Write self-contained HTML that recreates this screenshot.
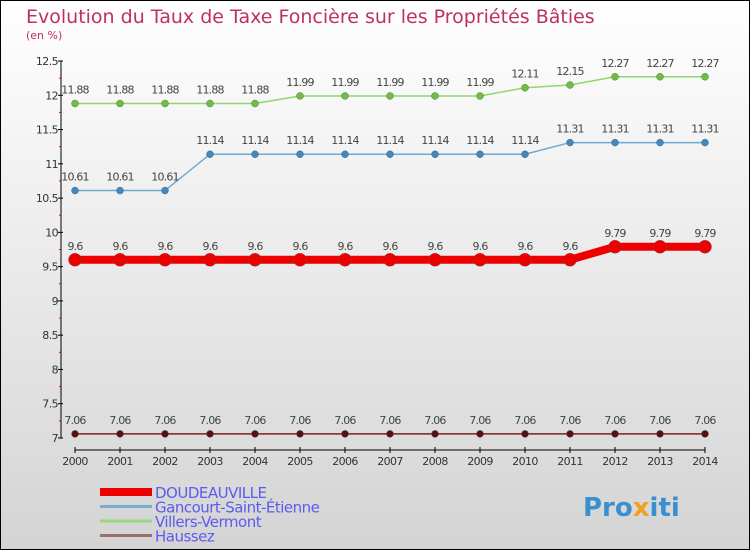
<!DOCTYPE html>
<html><head><meta charset="utf-8"><style>
body{margin:0;}
svg{display:block;font-family:"DejaVu Sans","Liberation Sans",sans-serif;}
</style></head><body>
<svg id="c" width="750" height="550" viewBox="0 0 750 550" xmlns="http://www.w3.org/2000/svg">
<defs><linearGradient id="bg" x1="0" y1="0" x2="0" y2="1"><stop offset="0" stop-color="#ffffff"/><stop offset="1" stop-color="#d4d4d4"/></linearGradient></defs>
<rect x="0.5" y="0.5" width="749" height="549" fill="url(#bg)" stroke="#000"/>
<text x="26" y="23" font-size="19" fill="#c0305e">Evolution du Taux de Taxe Foncière sur les Propriétés Bâties</text>
<text x="26" y="39" font-size="11" fill="#c0305e">(en %)</text>
<g id="axes"></g><g id="series"></g><g id="legend"></g>
<g><text x="583" y="516" font-size="26" font-weight="bold" fill="#3a8fd0">Pro<tspan fill="#f0a020">x</tspan>iti</text></g>
</svg>
<script>
const years=[2000,2001,2002,2003,2004,2005,2006,2007,2008,2009,2010,2011,2012,2013,2014];
const yTicks=[7,7.5,8,8.5,9,9.5,10,10.5,11,11.5,12,12.5];
const doudeauville=[9.6,9.6,9.6,9.6,9.6,9.6,9.6,9.6,9.6,9.6,9.6,9.6,9.79,9.79,9.79];
const gancourt=[10.61,10.61,10.61,11.14,11.14,11.14,11.14,11.14,11.14,11.14,11.14,11.31,11.31,11.31,11.31];
const villers=[11.88,11.88,11.88,11.88,11.88,11.99,11.99,11.99,11.99,11.99,12.11,12.15,12.27,12.27,12.27];
const haussez=[7.06,7.06,7.06,7.06,7.06,7.06,7.06,7.06,7.06,7.06,7.06,7.06,7.06,7.06,7.06];
const seriesNames=["DOUDEAUVILLE","Gancourt-Saint-Étienne","Villers-Vermont","Haussez"];
const NS="http://www.w3.org/2000/svg";
const xS=i=>75+i*45;
const yS=v=>438-(v-7)*(377/5.5);
function mk(p,t,a){const e=document.createElementNS(NS,t);for(const k in a)e.setAttribute(k,a[k]);p.appendChild(e);return e;}
const ax=document.getElementById('axes');
const yAxis=mk(ax,'line',{x1:61,y1:yS(12.5),x2:61,y2:438,stroke:'#000'});


yTicks.forEach((v,i)=>{
 const y=yS(v);
 mk(ax,'line',{x1:58,y1:y,x2:63,y2:y,stroke:'#000'});
 if(i<yTicks.length-1) mk(ax,'line',{x1:59,y1:(y+yS(yTicks[i+1]))/2,x2:61,y2:(y+yS(yTicks[i+1]))/2,stroke:'#e00'});
 const t=mk(ax,'text',{x:58,y:y+4,'font-size':11,'text-anchor':'end',fill:'#333','letter-spacing':'-0.6'});
 t.textContent=String(v);
 
 
});
const xAxis=mk(ax,'line',{x1:75,y1:450,x2:705,y2:450,stroke:'#000'});


years.forEach((yr,i)=>{
 mk(ax,'line',{x1:xS(i),y1:447,x2:xS(i),y2:453,stroke:'#000'});
 const t=mk(ax,'text',{x:xS(i),y:465,'font-size':11,'text-anchor':'middle',fill:'#333','letter-spacing':'-0.6'});
 t.textContent=yr;
 
 
});
const sg=document.getElementById('series');
const defs=[[villers,'#8fd86a','#6cc040',1.5,3.5,'villers-vermont'],[gancourt,'#6fa8d0','#3f88c0',1.5,3.5,'gancourt-saint-etienne'],[haussez,'#7a2020','#5a1010',1.5,3.5,'haussez'],[doudeauville,'#ee0000','#ee0000',8,6.5,'doudeauville']];
defs.forEach(([d,lc,pc,w,r,n])=>{
 const g=mk(sg,'g',{});
 
 
 mk(g,'polyline',{points:d.map((v,i)=>xS(i)+','+yS(v)).join(' '),fill:'none',stroke:lc,'stroke-width':w});
 d.forEach((v,i)=>{
  const c=mk(g,'circle',{cx:xS(i),cy:yS(v),r:r,fill:pc,stroke:'#555','stroke-width':0.4});
  
  
  const t=mk(g,'text',{x:xS(i),y:yS(v)-10,'font-size':11,'text-anchor':'middle',fill:'#444','letter-spacing':'-0.8'});
  t.textContent=String(v);
  
  
 });
});
const lg=document.getElementById('legend');
const lc=['#ee0000','#7aaed0','#98d880','#987070'];const lw=[8,3,3,3];
seriesNames.forEach((n,i)=>{
 const y=492+i*14.5;
 const g=mk(lg,'g',{});
 
 
 mk(g,'line',{x1:100,y1:y,x2:152,y2:y,stroke:lc[i],'stroke-width':lw[i]});
 const t=mk(g,'text',{x:155,y:y+6,'font-size':15,fill:'#5b5bf0','letter-spacing':'-0.5'});
 t.textContent=n;
});
</script>
</body></html>
